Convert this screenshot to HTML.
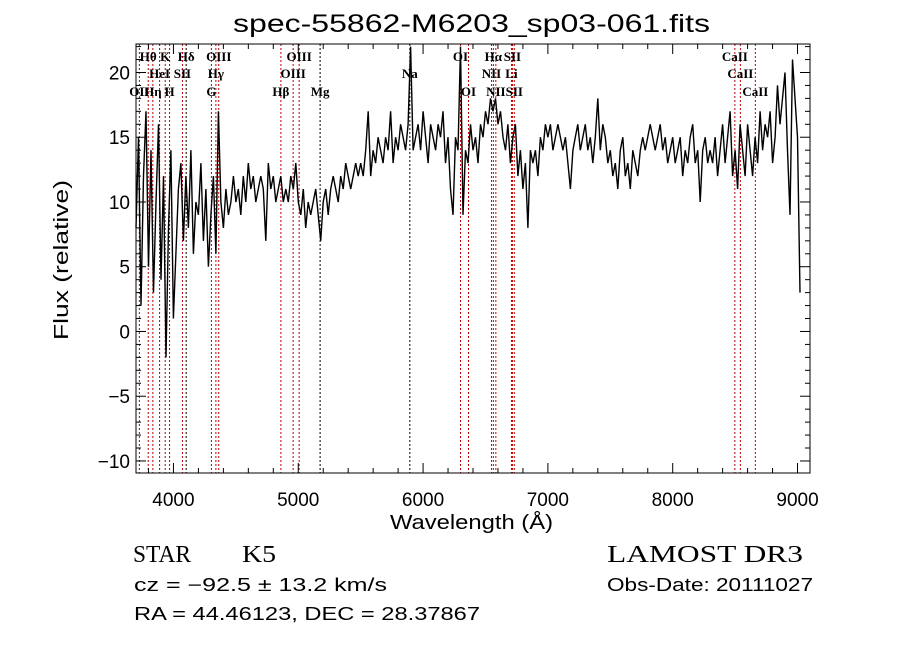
<!DOCTYPE html>
<html><head><meta charset="utf-8"><style>
html,body{margin:0;padding:0;background:#fff;}
svg{display:block;font-family:"Liberation Sans Narrow","Liberation Sans",sans-serif;}
</style></head><body>
<svg id="chart" width="900" height="649" viewBox="0 0 900 649" xmlns="http://www.w3.org/2000/svg">
<rect width="900" height="649" fill="#fff"/>
<text x="233" y="32" font-size="25" textLength="477" lengthAdjust="spacingAndGlyphs">spec-55862-M6203_sp03-061.fits</text>
<g id="lines"></g>
<g id="spec"></g>
<g id="axes"></g>
<g id="labels" font-family="Liberation Serif, serif" font-size="13" font-weight="bold"></g>
<text x="390" y="529" font-size="20" textLength="163" lengthAdjust="spacingAndGlyphs">Wavelength (Å)</text>
<text transform="translate(68,340) rotate(-90)" font-size="20" textLength="160" lengthAdjust="spacingAndGlyphs">Flux (relative)</text>
<text x="133" y="562" font-size="24" font-family="Liberation Serif, serif" textLength="58" lengthAdjust="spacingAndGlyphs">STAR</text>
<text x="242" y="562" font-size="24" font-family="Liberation Serif, serif" textLength="34" lengthAdjust="spacingAndGlyphs">K5</text>
<text x="134" y="591" font-size="18" textLength="253" lengthAdjust="spacingAndGlyphs">cz = −92.5 ± 13.2 km/s</text>
<text x="134" y="620" font-size="18" textLength="346" lengthAdjust="spacingAndGlyphs">RA =  44.46123, DEC =  28.37867</text>
<text x="607" y="562" font-size="24" font-family="Liberation Serif, serif" textLength="196" lengthAdjust="spacingAndGlyphs">LAMOST DR3</text>
<text x="607" y="591" font-size="18" textLength="206" lengthAdjust="spacingAndGlyphs">Obs-Date: 20111027</text>
</svg>
<script>
const wlStart = 3700;
const wlStep = 20;
const flux = [
8,15,2,12,17,5,14,3,10,16,
4,12,-2,8,14,1,6,11,13,7,
12,8,14,6,10,9,13,7,11,5,
9,12,6,17,10,8,11,9,10,12,
10,11,9,12,10,13,11,12,10,11,
12,11,7,13,11,12,10,11,12,10,
11,10,12,11,13,10,9,11,8,10,
9,10,11,9,7,10,11,9,11,12,
11,10,12,11,13,12,11,12,13,12,
13,12,14,17,12,14,13,15,14,13,
15,14,17,13,15,14,16,15,14,16,
22,14,15,16,14,17,15,13,16,15,
14,16,15,17,13,15,11,9,15,14,
22,9,14,13,16,14,15,13,16,15,
17,16,18,17,18,16,17,15,14,16,
13,15,16,12,14,11,13,8,14,13,
14,12,15,14,16,15,16,14,15,16,
15,14,15,13,11,14,15,16,14,15,
16,14,15,13,15,18,14,16,15,13,
14,12,13,11,14,15,12,13,11,14,
13,12,14,15,14,15,16,15,14,15,
16,14,15,13,14,15,13,14,15,12,
14,13,15,16,13,14,10,14,15,13,
14,13,15,12,14,16,13,15,17,12,
14,11,16,14,12,16,14,12,15,13,
17,14,16,15,17,13,15,19,16,18,
20,14,9,21,18,15,3
];
const lineWl = [3727,3798,3835,3889,3934,3969,4072,4102,4304,4340,4363,4861,4959,5007,5175,5894,6300,6364,6548,6563,6583,6708,6716,6731,8498,8542,8662];
const lineRed = [1,1,1,1,1,1,1,0,1,1,1,1,1,1,0,0,1,1,1,1,1,1,1,1,1,1,1];
const lineLabels = ["OII","Hθ","Hη","HeI","K","H","SII","Hδ","G","Hγ","OIII","Hβ","OIII","OIII","Mg","Na","OI","OI","NII","Hα","NII","Li","SII","SII","CaII","CaII","CaII"];
const lineRow = [3,1,3,2,1,3,2,1,3,2,1,3,2,1,3,2,1,3,2,1,3,2,1,3,1,2,3];
const xTicks = [4000,5000,6000,7000,8000,9000];
const yTicks = [-10,-5,0,5,10,15,20];

const L=136,R=810,T=44,B=473, X0=3700,X1=9100,Y0=-10.93,Y1=22.2;
const ns="http://www.w3.org/2000/svg";
function xs(w){return L+(w-X0)/(X1-X0)*(R-L);}
function ys(f){return B-(f-Y0)/(Y1-Y0)*(B-T);}
function mk(t,a,p){const e=document.createElementNS(ns,t);for(const k in a)e.setAttribute(k,a[k]);p.appendChild(e);return e;}

const gl=document.getElementById('lines');
lineWl.forEach((w,i)=>{
  const l=mk('line',{x1:xs(w),x2:xs(w),y1:T,y2:B,stroke:lineRed[i]?'#c00000':'#000','stroke-width':1,'stroke-dasharray':'2,2'},gl);
  
  
});
const glab=document.getElementById('labels');
const rowY={1:61,2:78,3:96};
lineWl.forEach((w,i)=>{
  const t=mk('text',{x:xs(w),y:rowY[lineRow[i]],'text-anchor':'middle'},glab);
  t.textContent=lineLabels[i];
  
  
});

const gs=document.getElementById('spec');
let d='';
flux.forEach((f,i)=>{const w=wlStart+i*wlStep;d+=(i?'L':'M')+xs(w).toFixed(1)+' '+ys(f).toFixed(1);});
const p=mk('path',{d:d,fill:'none',stroke:'#000','stroke-width':1.4},gs);



const ga=document.getElementById('axes');
const fr=mk('rect',{x:L,y:T,width:R-L,height:B-T,fill:'none',stroke:'#000','stroke-width':1},ga);


for(let w=3800;w<=9100;w+=200){
  const big=w%1000===0,len=big?10:5;
  mk('line',{x1:xs(w),x2:xs(w),y1:B,y2:B-len,stroke:'#000'},ga);
  mk('line',{x1:xs(w),x2:xs(w),y1:T,y2:T+len,stroke:'#000'},ga);
}
xTicks.forEach(w=>{
  const t=mk('text',{x:xs(w),y:B+33,'font-size':19,'text-anchor':'middle'},ga);
  t.textContent=w;
  
  
});
for(let f=-10;f<=22;f+=1){
  const big=f%5===0,len=big?10:5;
  mk('line',{x1:L,x2:L+len,y1:ys(f),y2:ys(f),stroke:'#000'},ga);
  mk('line',{x1:R,x2:R-len,y1:ys(f),y2:ys(f),stroke:'#000'},ga);
}
yTicks.forEach(f=>{
  const t=mk('text',{x:L-6,y:ys(f)+7,'font-size':19,'text-anchor':'end'},ga);
  t.textContent=f<0?'−'+Math.abs(f):f;
  
  
});
</script>
</body></html>
